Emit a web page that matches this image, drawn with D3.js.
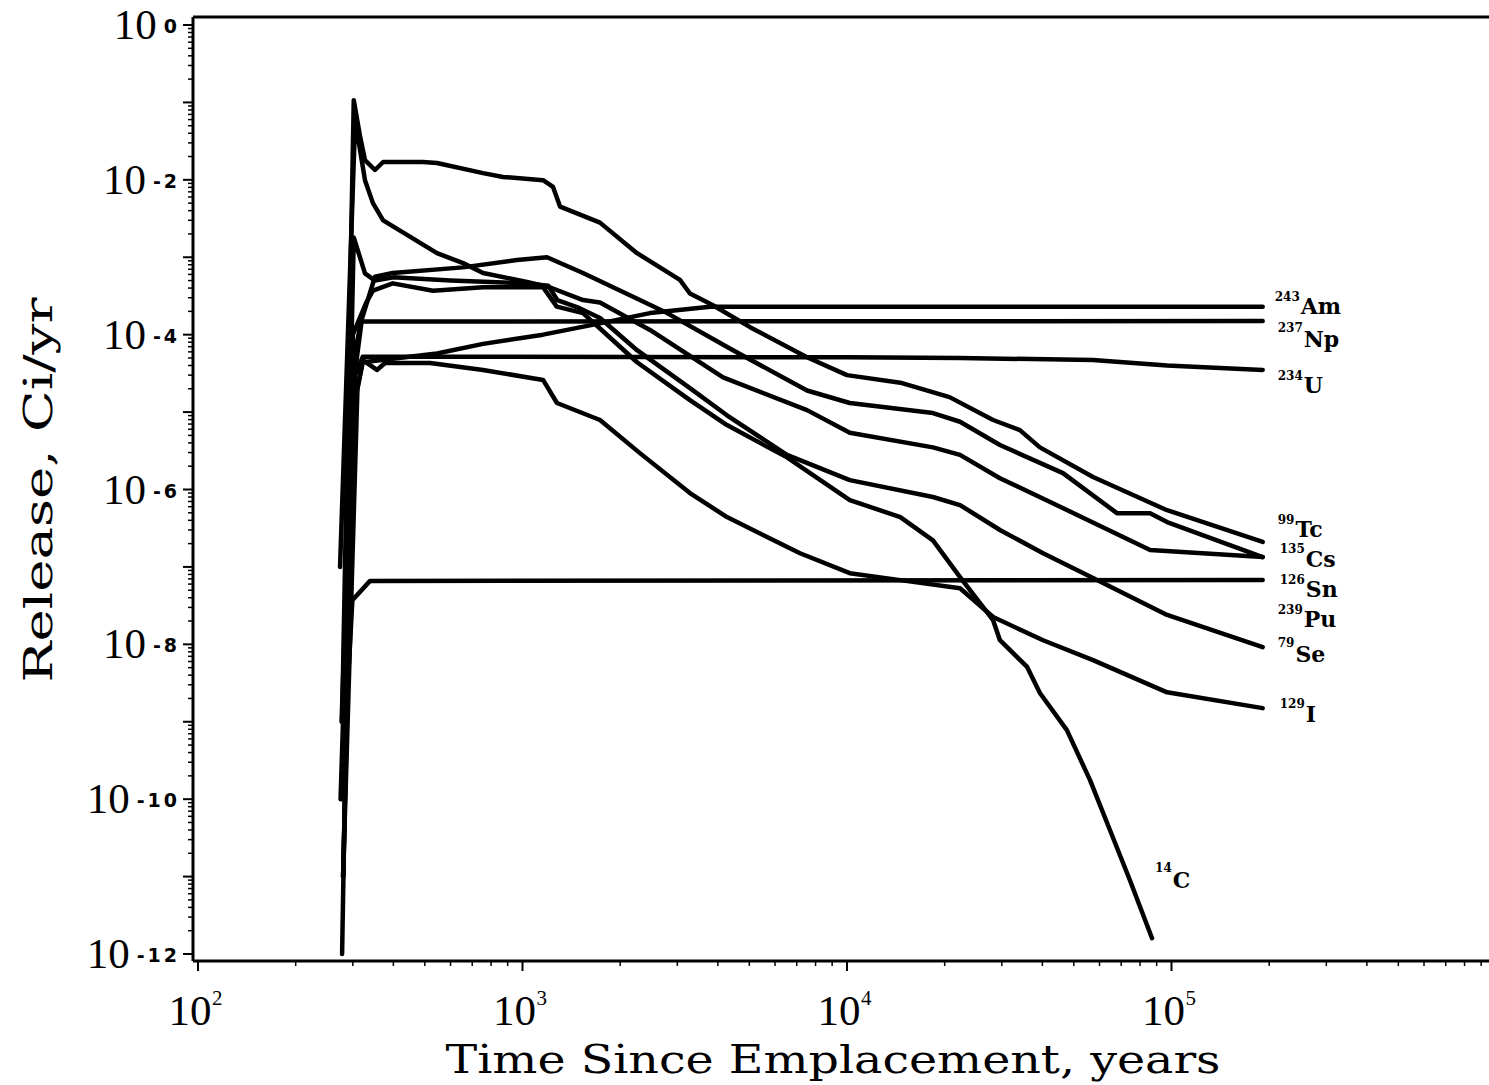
<!DOCTYPE html>
<html><head><meta charset="utf-8">
<script src="https://cdn.jsdelivr.net/npm/d3@7"></script>
<style>body{margin:0;background:#fff}svg{display:block}</style>
</head><body>
<svg id="chart" width="1489" height="1085"></svg>
<script>
// ---------------- data (time in years, release in Ci/yr) ----------------
const seriesNames = ["Am","Np","U","Tc","Cs","Sn","Pu","Se","I","C"];
const massNumbers = ["243","237","234","99","135","126","239","79","129","14"];

const am243 = [[280,1e-11],[310,2e-5],[322,4.4e-5],[545,5.7e-5],[756,7.6e-5],[1157,1.0e-4],[1733,1.4e-4],[2471,1.9e-4],[3787,2.3e-4],[1.91e5,2.3e-4]];
const np237 = [[280,1e-11],[305,6e-5],[318,1.48e-4],[1.91e5,1.5e-4]];
const u234  = [[280,1e-11],[305,3e-5],[322,5.2e-5],[1.0e4,5.1e-5],[2.23e4,5.0e-5],[5.73e4,4.7e-5],[9.69e4,4.0e-5],[1.91e5,3.5e-5]];
const tc99  = [[278,1e-9],[302,0.107],[316,3.6e-2],[327,1.8e-2],[351,1.34e-2],[372,1.7e-2],[493,1.7e-2],[545,1.65e-2],[756,1.22e-2],[871,1.09e-2],[1157,9.9e-3],[1242,8.1e-3],[1306,4.5e-3],[1733,2.8e-3],[2254,1.13e-3],[3056,5.1e-4],[3281,3.4e-4],[3864,2.4e-4],[5026,1.25e-4],[7530,5.1e-5],[1.0e4,3.0e-5],[1.46e4,2.4e-5],[2.07e4,1.56e-5],[2.82e4,7.9e-6],[3.41e4,5.85e-6],[3.93e4,3.5e-6],[5.73e4,1.45e-6],[9.69e4,5.4e-7],[1.91e5,2.1e-7]];
const cs135 = [[277,1e-9],[300,2e-5],[320,1.6e-4],[351,5.6e-4],[398,6.25e-4],[655,7.4e-4],[962,9.2e-4],[1190,1.0e-3],[1536,6.25e-4],[2300,2.8e-4],[2790,1.9e-4],[4453,6.3e-5],[7530,1.9e-5],[1.02e4,1.31e-5],[1.84e4,9.7e-6],[2.23e4,7.5e-6],[2.96e4,3.75e-6],[4.63e4,1.63e-6],[6.79e4,4.95e-7],[8.59e4,4.95e-7],[9.69e4,3.8e-7],[1.91e5,1.34e-7]];
const sn126 = [[277,1e-10],[299,3.7e-8],[339,6.6e-8],[1.91e5,6.8e-8]];
const pu239 = [[274,1e-7],[305,5.9e-2],[327,9.9e-3],[346,5.0e-3],[372,3.0e-3],[428,2.1e-3],[545,1.13e-3],[656,8.4e-4],[756,6.25e-4],[1032,4.8e-4],[1213,4.1e-4],[1536,2.8e-4],[1733,2.6e-4],[2471,1.15e-4],[4150,2.8e-5],[7530,1.06e-5],[1.02e4,5.4e-6],[1.84e4,3.5e-6],[2.23e4,2.8e-6],[2.96e4,1.4e-6],[4.57e4,5.9e-7],[8.59e4,1.65e-7],[1.91e5,1.34e-7]];
const se79  = [[280,1e-9],[302,1.8e-3],[327,6.2e-4],[351,5.0e-4],[400,5.5e-4],[600,5.0e-4],[1000,4.6e-4],[1200,4.3e-4],[1280,2.8e-4],[1500,2.2e-4],[1733,1.64e-4],[2254,6.3e-5],[3281,2.04e-5],[4266,9.1e-6],[6531,2.8e-6],[1.02e4,1.32e-6],[1.84e4,8.0e-7],[2.23e4,6.3e-7],[2.96e4,3.0e-7],[4.02e4,1.5e-7],[5.73e4,7.2e-8],[9.69e4,2.4e-8],[1.91e5,9.2e-9]];
const i129  = [[275,1e-10],[300,1e-5],[322,4.7e-5],[356,3.5e-5],[377,4.3e-5],[519,4.3e-5],[756,3.5e-5],[1157,2.6e-5],[1277,1.31e-5],[1733,7.9e-6],[2300,2.95e-6],[3281,9.0e-7],[4266,4.4e-7],[5395,2.7e-7],[7165,1.5e-7],[1.02e4,8.3e-8],[1.46e4,6.75e-8],[2.23e4,5.3e-8],[2.82e4,2.25e-8],[4.02e4,1.13e-8],[5.73e4,6.25e-9],[9.69e4,2.4e-9],[1.91e5,1.5e-9]];
const c14   = [[278,1e-12],[300,1e-4],[330,2.6e-4],[346,3.7e-4],[398,4.6e-4],[530,3.7e-4],[756,4.1e-4],[1157,4.1e-4],[1275,2.3e-4],[1536,1.9e-4],[1733,1.2e-4],[2254,4.4e-5],[3281,1.43e-5],[4266,6.8e-6],[6531,2.6e-6],[1.02e4,7.3e-7],[1.46e4,4.4e-7],[1.84e4,2.2e-7],[2.23e4,7.4e-8],[2.82e4,2.05e-8],[2.96e4,1.13e-8],[3.59e4,5.1e-9],[3.93e4,2.35e-9],[4.76e4,7.8e-10],[5.61e4,1.76e-10],[6.46e4,4.0e-11],[7.45e4,8.9e-12],[8.71e4,1.6e-12]];

const seriesData = [am243, np237, u234, tc99, cs135, sn126, pu239, se79, i129, c14];

const xTickDecades = [2,3,4,5];
const yTickDecades = [0,-1,-2,-3,-4,-5,-6,-7,-8,-9,-10,-11,-12];
const yLabelDecades = [0,-2,-4,-6,-8,-10,-12];
const xTitle = "Time Since Emplacement, years";
const yTitle = "Release, Ci/yr";

// ---------------- layout ----------------
const frame = {left:193, right:1489, top:17, bottom:961};
const x = d3.scaleLog().domain([1e2,1e5]).range([198,1171.5]);
const y = d3.scaleLog().domain([1e-12,1]).range([954,25]);

// label offsets relative to each curve's end point (pixels)
const labelLayout = {
  Am:{dx:12, my:-6, ey:7},  Np:{dx:15, my:11, ey:26}, U:{dx:15, my:10, ey:23},
  Tc:{dx:15, my:-18, ey:-5}, Cs:{dx:17, my:-4, ey:10}, Sn:{dx:17, my:4, ey:17},
  Pu:{dx:15, my:57, ey:70},  Se:{dx:15, my:0, ey:15},  I:{dx:17, my:0, ey:14},
  C:{dx:3, my:-66, ey:-50}
};

const svg = d3.select("#chart");
const g = svg.append("g");

// frame lines
g.append("line").attr("x1",frame.left).attr("x2",frame.right).attr("y1",frame.top).attr("y2",frame.top)
  .attr("stroke","#000").attr("stroke-width",3);
g.append("line").attr("x1",frame.left).attr("x2",frame.right).attr("y1",frame.bottom).attr("y2",frame.bottom)
  .attr("stroke","#000").attr("stroke-width",3);
g.append("line").attr("x1",frame.left).attr("x2",frame.left).attr("y1",frame.top).attr("y2",frame.bottom)
  .attr("stroke","#000").attr("stroke-width",3);

// y ticks
yTickDecades.forEach(d => {
  const yy = y(Math.pow(10,d));
  g.append("line").attr("x1",frame.left-10).attr("x2",frame.left).attr("y1",yy).attr("y2",yy)
    .attr("stroke","#000").attr("stroke-width",2);
  if (d < 0) {
    for (let k=2;k<=9;k++){
      const ym = y(k*Math.pow(10,d));
      g.append("line").attr("x1",frame.left-5).attr("x2",frame.left).attr("y1",ym).attr("y2",ym)
        .attr("stroke","#000").attr("stroke-width",1.5);
    }
  }
});
// x ticks
xTickDecades.forEach(d => {
  const xx = x(Math.pow(10,d));
  g.append("line").attr("x1",xx).attr("x2",xx).attr("y1",frame.bottom).attr("y2",frame.bottom+10)
    .attr("stroke","#000").attr("stroke-width",2);
  for (let k=2;k<=9;k++){
    const xm = x(k*Math.pow(10,d));
    if (xm < frame.right-2)
      g.append("line").attr("x1",xm).attr("x2",xm).attr("y1",frame.bottom).attr("y2",frame.bottom+5)
        .attr("stroke","#000").attr("stroke-width",1.5);
  }
});

// y tick labels
yLabelDecades.forEach(d => {
  const yy = y(Math.pow(10,d));
  const ex = g.append("text").attr("x",180).attr("y",yy+8).attr("text-anchor","end")
    .style("font","bold 19px 'DejaVu Sans'").style("letter-spacing","3px")
    .text(d===0 ? "0" : "-" + (-d));
  const w = ex.node().getComputedTextLength();
  g.append("text").attr("x",180-w-7).attr("y",yy+14).attr("text-anchor","end")
    .style("font","43px 'Liberation Serif'").text("10");
});
// x tick labels
xTickDecades.forEach(d => {
  const xx = x(Math.pow(10,d));
  g.append("text").attr("x",xx-8).attr("y",1025).attr("text-anchor","middle")
    .style("font","43px 'Liberation Serif'").text("10");
  g.append("text").attr("x",xx+14).attr("y",1005)
    .style("font","21px 'Liberation Serif'").text(String(d));
});

// axis titles
g.append("text").attr("x",833).attr("y",1073).attr("text-anchor","middle")
  .attr("textLength",775).attr("lengthAdjust","spacingAndGlyphs")
  .style("font","40px 'DejaVu Serif'").text(xTitle);
g.append("text").attr("transform","translate(52,490) rotate(-90)").attr("text-anchor","middle")
  .attr("textLength",385).attr("lengthAdjust","spacingAndGlyphs")
  .style("font","40px 'DejaVu Serif'").text(yTitle);

// curves
const line = d3.line().x(p => x(p[0])).y(p => y(p[1]));
seriesData.forEach(s => {
  g.append("path").attr("d", line(s)).attr("fill","none").attr("stroke","#000")
    .attr("stroke-width",4.5).attr("stroke-linejoin","round").attr("stroke-linecap","round");
});

// curve labels
seriesNames.forEach((name,i) => {
  const s = seriesData[i];
  const last = s[s.length-1];
  const ex = x(last[0]), ey = y(last[1]);
  const L = labelLayout[name];
  const m = g.append("text").attr("x",ex+L.dx).attr("y",ey+L.my)
    .style("font","bold 12px 'DejaVu Serif'").text(massNumbers[i]);
  const mw = m.node().getComputedTextLength();
  g.append("text").attr("x",ex+L.dx+mw+1).attr("y",ey+L.ey)
    .style("font","bold 22px 'DejaVu Serif'").text(name);
});
</script>
</body></html>
